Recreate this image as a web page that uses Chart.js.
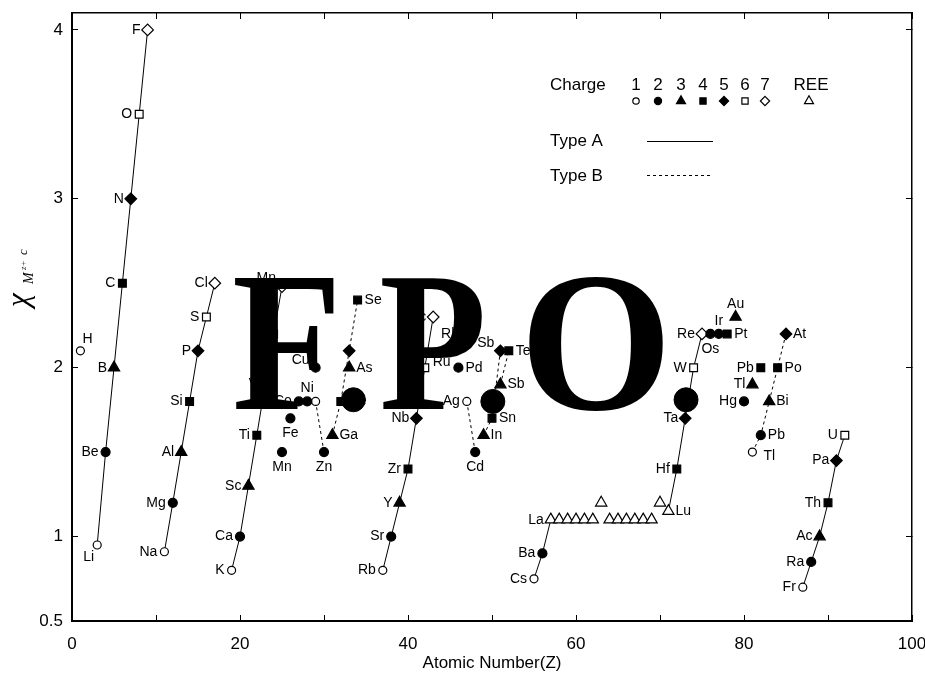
<!DOCTYPE html>
<html><head><meta charset="utf-8">
<script src="https://cdn.jsdelivr.net/npm/chart.js@4/dist/chart.umd.min.js"></script>
<style>html,body{margin:0;padding:0;background:#fff;}canvas{display:block;}</style>
</head><body>
<canvas id="c" width="925" height="677"></canvas>
<script>
// ---------------- DATA ----------------
// Type A series (solid lines)
const a1Labels = ["Li","Be","B","C","N","O","F"];
const a1Z      = [3,4,5,6,7,8,9];
const a1Chi    = [0.95,1.5,2.0,2.5,3.0,3.5,4.0];
const a1Charge = [1,2,3,4,5,6,7];

const a2Labels = ["Na","Mg","Al","Si","P","S","Cl"];
const a2Z      = [11,12,13,14,15,16,17];
const a2Chi    = [0.91,1.2,1.5,1.8,2.1,2.3,2.5];
const a2Charge = [1,2,3,4,5,6,7];

const a3Labels = ["K","Ca","Sc","Ti","V","Cr","Mn"];
const a3Z      = [19,20,21,22,23,24,25];
const a3Chi    = [0.8,1.0,1.3,1.6,1.9,2.2,2.48];
const a3Charge = [1,2,3,4,5,6,7];

const a4Labels = ["Rb","Sr","Y","Zr","Nb","Mo","Tc"];
const a4Z      = [37,38,39,40,41,42,43];
const a4Chi    = [0.8,1.0,1.2,1.4,1.7,2.0,2.3];
const a4Charge = [1,2,3,4,5,6,7];

const a5Labels = ["Cs","Ba","La"];
const a5Z      = [55,56,57];
const a5Chi    = [0.75,0.9,1.1];
const a5Charge = [1,2,"REE"];

const a6Labels = ["Lu","Hf","Ta","W","Re","Os","Ir","Pt"];
const a6Z      = [71,72,73,74,75,76,77,78];
const a6Chi    = [1.15,1.4,1.7,2.0,2.2,2.2,2.2,2.2];
const a6Charge = ["REE",4,5,6,7,2,2,4];

const a7Labels = ["Fr","Ra","Ac","Th","Pa","U"];
const a7Z      = [87,88,89,90,91,92];
const a7Chi    = [0.7,0.85,1.0,1.2,1.45,1.6];
const a7Charge = [1,2,3,4,5,6];

// Type B series (dashed lines)
const b1Labels = ["","Zn"];
const b1Z      = [29,30];
const b1Chi    = [1.8,1.5];
const b1Charge = [1,2];

const b2Labels = ["Ga","Ge","","Se"];
const b2Z      = [31,32,33,34];
const b2Chi    = [1.6,1.8,2.1,2.4];
const b2Charge = [3,4,5,4];

const b3Labels = ["Ag","Cd"];
const b3Z      = [47,48];
const b3Chi    = [1.8,1.5];
const b3Charge = [1,2];

const b4Labels = ["In","Sn","Sb"];
const b4Z      = [49,50,51];
const b4Chi    = [1.6,1.7,2.1];
const b4Charge = [3,4,5];

const b5Labels = ["Sb","Te"];
const b5Z      = [51,52];
const b5Chi    = [1.9,2.1];
const b5Charge = [3,4];

const b6Labels = ["Tl","Pb","Bi","Po","At"];
const b6Z      = [81,82,83,84,85];
const b6Chi    = [1.5,1.6,1.8,2.0,2.2];
const b6Charge = [1,2,3,4,5];

// Unconnected points
const uLabels = ["H","Mn","Fe","Co","Ni","Cu","As","Ru","Rh","Pd","Au","Hg","Tl","Pb"];
const uZ      = [1,25,26,27,28,29,33,44,45,46,79,80,81,82];
const uChi    = [2.1,1.5,1.7,1.8,1.8,2.0,2.0,2.03,2.2,2.0,2.3,1.8,1.9,2.0];
const uCharge = [1,2,2,2,2,2,3,0,0,2,3,2,3,4];

// Rare earth elements (unlabelled)
const reeZ   = [58,59,60,61,62,63,64,65,66,67,68,69,70];
const reeChi = [1.1,1.1,1.1,1.1,1.1,1.2,1.1,1.1,1.1,1.1,1.1,1.1,1.2];

// Overlay blobs of the "FPO" stamp
const fpoDotZ   = [33.5,50.1,73.1];
const fpoDotChi = [1.81,1.80,1.81];

const yTickValues = [0.5,1,2,3,4];
const legendChargeLabels = ["1","2","3","4","5","6","7","REE"];
const legendChargeCodes  = [1,2,3,4,5,6,7,"REE"];
const legendTypes = ["Type A","Type B"];
const stampText = "FPO";

// ---------------- LABEL PLACEMENT (style) ----------------
const sideA1 = ["bl","l","l","l","l","l","l"];
const sideA3 = ["l","l","l","l","l","l","tl"];
const sideA6 = ["r","l","l","l","l","b","t","r"];
const sideB1 = ["n","b"], sideB2 = ["r","r","n","r"], sideB3 = ["l","b"], sideB4 = ["r","r","tl"], sideB5 = ["r","r"], sideB6 = ["br","r","r","r","r"];
const sideU  = ["tr","b","b","l","t","tl","r","c","c","r","t","l","l","l"];
const allL = n => Array(n).fill("l");

const groups = [
  {labels:a1Labels,z:a1Z,chi:a1Chi,charge:a1Charge,side:sideA1,line:"A"},
  {labels:a2Labels,z:a2Z,chi:a2Chi,charge:a2Charge,side:allL(7),line:"A"},
  {labels:a3Labels,z:a3Z,chi:a3Chi,charge:a3Charge,side:sideA3,line:"A"},
  {labels:a4Labels,z:a4Z,chi:a4Chi,charge:a4Charge,side:allL(7),line:"A"},
  {labels:a5Labels,z:a5Z,chi:a5Chi,charge:a5Charge,side:allL(3),line:"A"},
  {labels:a6Labels,z:a6Z,chi:a6Chi,charge:a6Charge,side:sideA6,line:"A"},
  {labels:a7Labels,z:a7Z,chi:a7Chi,charge:a7Charge,side:allL(6),line:"A"},
  {labels:b1Labels,z:b1Z,chi:b1Chi,charge:b1Charge,side:sideB1,line:"B"},
  {labels:b2Labels,z:b2Z,chi:b2Chi,charge:b2Charge,side:sideB2,line:"B"},
  {labels:b3Labels,z:b3Z,chi:b3Chi,charge:b3Charge,side:sideB3,line:"B"},
  {labels:b4Labels,z:b4Z,chi:b4Chi,charge:b4Charge,side:sideB4,line:"B"},
  {labels:b5Labels,z:b5Z,chi:b5Chi,charge:b5Charge,side:sideB5,line:"B"},
  {labels:b6Labels,z:b6Z,chi:b6Chi,charge:b6Charge,side:sideB6,line:"B"},
  {labels:uLabels,z:uZ,chi:uChi,charge:uCharge,side:sideU,line:null},
  {labels:reeZ.map(()=>""),z:reeZ,chi:reeChi,charge:reeZ.map(()=>"REE"),side:reeZ.map(()=>"n"),line:null}
];

const FONT = '"Liberation Sans", Arial, sans-serif';

function markerSpec(c){
  switch(c){
    case 1: return {style:'circle', fill:'#fff', r:4};
    case 2: return {style:'circle', fill:'#000', r:4.5};
    case 3: return {style:'triangle', fill:'#000', r:6.5};
    case 4: return {style:'rect', fill:'#000', r:5.5};
    case 5: return {style:'rectRot', fill:'#000', r:5.8};
    case 6: return {style:'rect', fill:'#fff', r:5.5};
    case 7: return {style:'rectRot', fill:'#fff', r:5.8};
    case "REE": return {style:'triangle', fill:'#fff', r:6.5};
    default: return {style:'circle', fill:'rgba(0,0,0,0)', r:0};
  }
}

// flatten markers
const markerPts = [], markerCodes = [], markerTexts = [], markerSides = [];
groups.forEach(g => g.z.forEach((z,i) => {
  markerPts.push({x:z, y:g.chi[i]});
  markerCodes.push(g.charge[i]);
  markerTexts.push(g.labels[i]);
  markerSides.push(g.side[i]);
}));

const lineSets = groups.filter(g => g.line).map(g => ({
  data: g.z.map((z,i) => ({x:z, y:g.chi[i]})),
  showLine: true, pointRadius: 0, pointHoverRadius: 0,
  borderColor: '#000', borderWidth: 1,
  borderDash: g.line === "B" ? [3,3] : [],
  tension: 0, order: 2
}));

function drawMarker(ctx, code, x, y, k){
  const s = markerSpec(code); const r = s.r * k;
  if (r <= 0) return;
  ctx.save();
  ctx.fillStyle = s.fill; ctx.strokeStyle = '#000'; ctx.lineWidth = 1.2;
  ctx.beginPath();
  if (s.style === 'circle') ctx.arc(x, y, r, 0, Math.PI*2);
  else if (s.style === 'triangle') {
    ctx.moveTo(x, y - r); ctx.lineTo(x + r*0.866, y + r*0.5); ctx.lineTo(x - r*0.866, y + r*0.5); ctx.closePath();
  } else if (s.style === 'rect') { const h = r*Math.SQRT1_2; ctx.rect(x-h, y-h, 2*h, 2*h); }
  else if (s.style === 'rectRot') { ctx.moveTo(x, y-r); ctx.lineTo(x+r, y); ctx.lineTo(x, y+r); ctx.lineTo(x-r, y); ctx.closePath(); }
  ctx.fill(); ctx.stroke();
  ctx.restore();
}

const labelPlugin = {
  id: 'elementLabels',
  afterDatasetsDraw(chart){
    const ctx = chart.ctx, xs = chart.scales.x, ys = chart.scales.y;
    ctx.save();
    ctx.fillStyle = '#000';
    ctx.font = '14px ' + FONT;
    markerPts.forEach((p,i) => {
      const t = markerTexts[i], side = markerSides[i];
      if (!t || side === 'n') return;
      const px = xs.getPixelForValue(p.x), py = ys.getPixelForValue(p.y);
      let x = px, y = py, al = 'center', bl = 'middle';
      switch(side){
        case 'l': x = px - 7; al = 'right'; break;
        case 'r': x = px + 7; al = 'left'; break;
        case 't': y = py - 13; break;
        case 'b': y = py + 15; break;
        case 'tl': x = px - 6; y = py - 8; al = 'right'; break;
        case 'tr': x = px + 2; y = py - 12; al = 'left'; break;
        case 'bl': x = px - 3; y = py + 12; al = 'right'; break;
        case 'br': x = px + 11; y = py + 4; al = 'left'; break;
        case 'c': break;
      }
      ctx.textAlign = al; ctx.textBaseline = bl;
      ctx.fillText(t, x, y);
    });
    ctx.restore();
  },
  afterDraw(chart){
    const ctx = chart.ctx;
    ctx.save();
    // legend
    ctx.fillStyle = '#000';
    ctx.font = '17px ' + FONT;
    ctx.textBaseline = 'middle'; ctx.textAlign = 'left';
    ctx.fillText('Charge', 550, 85);
    const cx = [636,658,681,703,724,745,765,809];
    ctx.textAlign = 'center';
    legendChargeLabels.forEach((t,i) => ctx.fillText(t, t === "REE" ? 811 : cx[i], 85));
    legendChargeCodes.forEach((c,i) => drawMarker(ctx, c, cx[i], 101, 0.8));
    ctx.textAlign = 'left';
    ctx.fillText(legendTypes[0], 550, 141);
    ctx.fillText(legendTypes[1], 550, 176);
    ctx.strokeStyle = '#000'; ctx.lineWidth = 1;
    ctx.beginPath(); ctx.moveTo(647, 141.5); ctx.lineTo(713, 141.5); ctx.stroke();
    ctx.setLineDash([3,3]);
    ctx.beginPath(); ctx.moveTo(647, 175.5); ctx.lineTo(713, 175.5); ctx.stroke();
    ctx.setLineDash([]);
    // y axis title (rotated)
    ctx.save();
    ctx.translate(28, 307); ctx.rotate(-Math.PI/2);
    ctx.textAlign = 'left'; ctx.textBaseline = 'alphabetic';
    ctx.font = 'italic 31px "Liberation Serif", serif';
    ctx.fillText('\u03C7', 0, 0);
    ctx.font = 'italic 14px "Liberation Serif", serif';
    ctx.fillText('M', 23, 5);
    ctx.font = 'italic 9px "Liberation Serif", serif';
    ctx.fillText('z+', 37, -2);
    ctx.font = 'italic 13px "Liberation Serif", serif';
    ctx.fillText('c', 52, -1);
    ctx.restore();
    // FPO stamp
    ctx.font = 'bold 200px "Liberation Serif", serif';
    ctx.textAlign = 'center'; ctx.textBaseline = 'alphabetic';
    const sx = [287, 433, 596], sk = [0.9, 0.88, 0.98];
    stampText.split('').forEach((ch,i) => {
      ctx.save(); ctx.translate(sx[i], 409); ctx.scale(sk[i], 1);
      ctx.fillText(ch, 0, 0); ctx.restore();
    });
    ctx.restore();
  }
};

const tickFont = {family: FONT, size: 17};
const noPadH = s => { s.paddingLeft = 0; s.paddingRight = 0; };
const noPadV = s => { s.paddingTop = 0; s.paddingBottom = 0; };
new Chart(document.getElementById('c'), {
  type: 'scatter',
  data: { datasets: [
    { data: fpoDotZ.map((z,i)=>({x:z,y:fpoDotChi[i]})), pointRadius: 12, pointHoverRadius: 12,
      pointBackgroundColor: '#000', pointBorderColor: '#000', showLine: false, order: 0 },
    { data: markerPts, showLine: false, order: 1,
      pointStyle: c => markerSpec(markerCodes[c.dataIndex]).style,
      pointRadius: c => markerSpec(markerCodes[c.dataIndex]).r,
      pointHoverRadius: c => markerSpec(markerCodes[c.dataIndex]).r,
      pointBackgroundColor: c => markerSpec(markerCodes[c.dataIndex]).fill,
      pointBorderColor: c => markerSpec(markerCodes[c.dataIndex]).r > 0 ? '#000' : 'rgba(0,0,0,0)',
      pointBorderWidth: 1.2 },
    ...lineSets
  ]},
  options: {
    responsive: false, animation: false, devicePixelRatio: 1,
    layout: { padding: { top: 12, right: 13, left: 0, bottom: 0 } },
    plugins: { legend: { display: false }, tooltip: { enabled: false } },
    events: [],
    scales: {
      x: { type: 'linear', position: 'bottom', min: 0, max: 100,
        afterFit: s => { s.height = 56; noPadH(s); },
        ticks: { stepSize: 10, autoSkip: false, maxRotation: 0, padding: 19, color: '#000', font: tickFont,
          callback: v => (v % 20 === 0 ? String(v) : '') },
        grid: { display: true, drawOnChartArea: false, drawTicks: true, tickLength: -6, color: '#000', lineWidth: 1 },
        border: { display: true, color: '#000', width: 2 },
        title: { display: true, text: 'Atomic Number(Z)', color: '#000', font: tickFont, padding: { top: 0, bottom: 3 } } },
      x2: { type: 'linear', position: 'top', min: 0, max: 100,
        afterFit: s => { s.height = 0; noPadH(s); },
        ticks: { stepSize: 10, display: false },
        grid: { display: true, drawOnChartArea: false, drawTicks: true, tickLength: -6, color: '#000', lineWidth: 1 },
        border: { display: true, color: '#000', width: 1.5 } },
      y: { type: 'linear', position: 'left', min: 0.5, max: 4.1,
        afterBuildTicks: s => { s.ticks = yTickValues.map(v => ({ value: v })); },
        afterFit: s => { s.width = 72; noPadV(s); },
        ticks: { padding: 15, color: '#000', font: tickFont, callback: v => String(v) },
        grid: { display: true, drawOnChartArea: false, drawTicks: true, tickLength: -6, color: '#000', lineWidth: 1 },
        border: { display: true, color: '#000', width: 2 } },
      y2: { type: 'linear', position: 'right', min: 0.5, max: 4.1,
        afterBuildTicks: s => { s.ticks = yTickValues.map(v => ({ value: v })); },
        afterFit: s => { s.width = 0; noPadV(s); },
        ticks: { display: false },
        grid: { display: true, drawOnChartArea: false, drawTicks: true, tickLength: -6, color: '#000', lineWidth: 1 },
        border: { display: true, color: '#000', width: 1.5 } }
    }
  },
  plugins: [labelPlugin]
});
</script>
</body></html>
